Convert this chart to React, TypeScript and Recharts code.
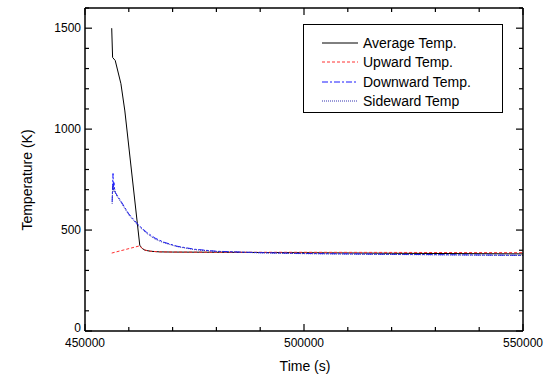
import { LineChart, Line, XAxis, YAxis } from 'recharts';

const avgTime = [456100, 456300, 456900, 458200, 459100, 462500, 463000, 463700, 465000, 467000, 470000, 480000, 500000, 520000, 550000];
const avgTemp = [1500, 1355, 1340, 1225, 1090, 425, 410, 400, 395, 392, 391, 390, 388, 385, 382];

const upTime = [456100, 462500, 463000, 463700, 465000, 467000, 470000, 480000, 500000, 550000];
const upTemp = [386, 422, 410, 401, 395, 392, 391, 390, 390, 388];

const downTime = [456200, 456300, 456400, 456500, 456600, 456800, 457100, 458000, 459000, 460000, 462000, 464000, 466000, 468000, 471000, 475000, 480000, 490000, 500000, 520000, 550000];
const downTemp = [640, 720, 780, 700, 735, 690, 680, 650, 615, 580, 530, 490, 460, 440, 420, 405, 395, 388, 384, 380, 375];

const sideTime = [456200, 456300, 456400, 456600, 456800, 457100, 458000, 459000, 460000, 462000, 464000, 466000, 468000, 471000, 475000, 480000, 490000, 500000, 520000, 550000];
const sideTemp = [630, 700, 720, 690, 700, 675, 645, 610, 575, 525, 485, 455, 437, 418, 403, 394, 387, 383, 379, 374];

const xMajor = [450000, 500000, 550000];
const xTicks = Array.from({ length: 11 }, (_, i) => 450000 + i * 10000);
const yMajor = [0, 500, 1000, 1500];
const yTicks = Array.from({ length: 17 }, (_, i) => i * 100);

const zip = (t: number[], v: number[]) => t.map((time, i) => ({ time, temp: v[i] }));

const SERIES = [
  { name: 'Average Temp.', data: zip(avgTime, avgTemp), color: '#000000', dash: undefined },
  { name: 'Upward Temp.', data: zip(upTime, upTemp), color: '#ff3030', dash: '3 2' },
  { name: 'Downward Temp.', data: zip(downTime, downTemp), color: '#1a1aff', dash: '6 2 2 2' },
  { name: 'Sideward Temp', data: zip(sideTime, sideTemp), color: '#3333b0', dash: '1 1' },
];

const FONT = 'Liberation Sans, Arial, sans-serif';

// plot box in page pixels
const L = 85, R = 523, T = 8, B = 331;

function makeTick(side: 'bottom' | 'top' | 'left' | 'right', major: number[]) {
  return ({ x, y, payload }: any) => {
    const v = payload.value;
    const isMajor = major.includes(v);
    const len = isMajor ? 7 : 4;
    let line;
    if (side === 'bottom') line = <line x1={x} y1={B} x2={x} y2={B - len} stroke="#000" strokeWidth={1.2} />;
    else if (side === 'top') line = <line x1={x} y1={T} x2={x} y2={T + len} stroke="#000" strokeWidth={1.2} />;
    else if (side === 'left') line = <line x1={L} y1={y} x2={L + len} y2={y} stroke="#000" strokeWidth={1.2} />;
    else line = <line x1={R} y1={y} x2={R - len} y2={y} stroke="#000" strokeWidth={1.2} />;
    let label = null;
    if (isMajor && side === 'bottom') {
      label = <text x={x} y={B + 16} textAnchor="middle" fontSize={12} fontFamily={FONT} fill="#000">{v}</text>;
    } else if (isMajor && side === 'left') {
      // the zero label sits a bit higher so it clears 450000 below it
      label = <text x={L - 4} y={v === 0 ? y + 1 : y + 4} textAnchor="end" fontSize={12} fontFamily={FONT} fill="#000">{v}</text>;
    }
    return <g>{line}{label}</g>;
  };
}

function LegendBox() {
  return (
    <div style={{ position: 'absolute', left: 303, top: 24, width: 200, height: 89, border: '1px solid #000', background: '#fff', fontFamily: FONT, fontSize: 14, boxSizing: 'border-box', paddingTop: 8 }}>
      {SERIES.map(s => (
        <div key={s.name} style={{ display: 'flex', alignItems: 'center', height: 19.5 }}>
          <svg width={59} height={10} style={{ flex: 'none' }}>
            <line x1={18} y1={5} x2={54} y2={5} stroke={s.color} strokeWidth={1} strokeDasharray={s.dash} />
          </svg>
          <span style={{ color: '#000' }}>{s.name}</span>
        </div>
      ))}
    </div>
  );
}

export default function App() {
  return (
    <div style={{ position: 'absolute', left: 0, top: 0, width: 552, height: 382, background: '#fff' }}>
      <LineChart width={552} height={382} margin={{ top: T - 1, right: 552 - R - 1, bottom: 382 - B - 1, left: L - 1 }}>
        <XAxis
          xAxisId="b" dataKey="time" type="number" domain={[450000, 550000]} ticks={xTicks}
          allowDataOverflow height={1} tickSize={0} tickMargin={0} interval={0}
          axisLine={{ stroke: '#000', strokeWidth: 1.5 }} tick={makeTick('bottom', xMajor)}
        />
        <XAxis
          xAxisId="t" orientation="top" dataKey="time" type="number" domain={[450000, 550000]} ticks={xTicks}
          allowDataOverflow height={1} tickSize={0} tickMargin={0} interval={0}
          axisLine={{ stroke: '#000', strokeWidth: 1.5 }} tick={makeTick('top', xMajor)}
        />
        <YAxis
          yAxisId="l" type="number" domain={[0, 1600]} ticks={yTicks} allowDataOverflow width={1}
          tickSize={0} tickMargin={0} interval={0}
          axisLine={{ stroke: '#000', strokeWidth: 1.5 }} tick={makeTick('left', yMajor)}
        />
        <YAxis
          yAxisId="r" orientation="right" type="number" domain={[0, 1600]} ticks={yTicks} allowDataOverflow width={1}
          tickSize={0} tickMargin={0} interval={0}
          axisLine={{ stroke: '#000', strokeWidth: 1.5 }} tick={makeTick('right', yMajor)}
        />
        {SERIES.map(s => (
          <Line
            key={s.name} xAxisId="b" yAxisId="l" data={s.data} dataKey="temp" name={s.name}
            type="linear" stroke={s.color} strokeWidth={1} strokeDasharray={s.dash}
            dot={false} activeDot={false} isAnimationActive={false}
          />
        ))}
      </LineChart>
      <div style={{ position: 'absolute', left: 305, top: 358, width: 0, overflow: 'visible', whiteSpace: 'nowrap', display: 'flex', justifyContent: 'center', fontFamily: FONT, fontSize: 14 }}>
        <span>Time (s)</span>
      </div>
      <div style={{ position: 'absolute', left: 27, top: 180, width: 0, height: 0, overflow: 'visible' }}>
        <div style={{ position: 'absolute', transform: 'translate(-50%, -50%) rotate(-90deg)', whiteSpace: 'nowrap', fontFamily: FONT, fontSize: 14 }}>Temperature (K)</div>
      </div>
      <LegendBox />
    </div>
  );
}
